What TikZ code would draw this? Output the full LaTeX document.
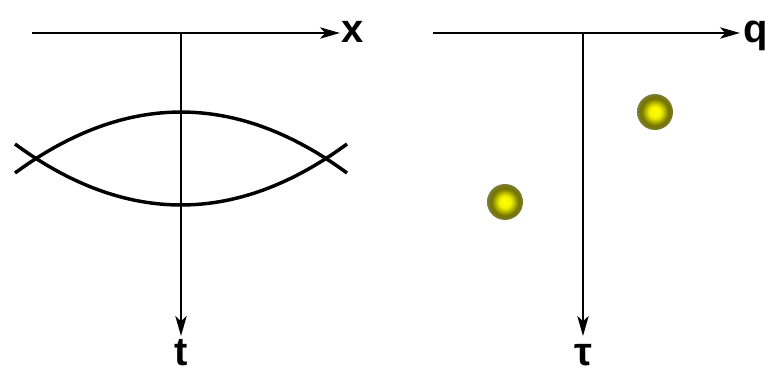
\documentclass[tikz,border=0pt]{standalone}
\usepackage{fontspec}
\setmainfont{Liberation Sans}
\usetikzlibrary{arrows.meta}

\pgfdeclareradialshading{glowdot}{\pgfpoint{0bp}{0bp}}{%
  color(0bp)=(yellow); color(8bp)=(yellow!95!black); color(19bp)=(yellow!45!black);
  color(28bp)=(yellow!30!black!70!white); color(38bp)=(black!15); color(46bp)=(white); color(50bp)=(white)}

\begin{document}
\begin{tikzpicture}[
    x=0.75pt, y=-0.75pt,
    axis/.style = {draw=black, line width=1.8pt, -{Stealth[length=15pt, width=8.5pt, inset=4pt]}},
    worldline/.style = {draw=black, line width=2.6pt},
    axlabel/.style = {anchor=base, inner sep=0pt, font=\fontsize{30}{33}\selectfont\bfseries},
    particle/.style = {circle, minimum size=27pt, inner sep=0pt, shading=glowdot}
]
\useasboundingbox (0,0) rectangle (771,372);

% Left frame
\coordinate (xstart) at (32,33);
\coordinate (xend) at (340,33);
\coordinate (torigin) at (181,33);
\coordinate (tend) at (181,336);
\node (xlab) [axlabel] at (353,42) {x};
\node (tlab) [axlabel] at (181,365) {t};
\draw [axis] (xstart) -- (xend);
\draw [axis] (torigin) -- (tend);

% Lens
\draw [worldline] (15,173) .. controls (125.7,91.7) and (236.3,91.7) .. (347,173);
\draw [worldline] (15,144) .. controls (125.7,225.3) and (236.3,225.3) .. (347,144);

% Right frame
\coordinate (qstart) at (433,33);
\coordinate (qend) at (740,33);
\coordinate (tauorigin) at (583,33);
\coordinate (tauend) at (583,336);
\node (qlab) [axlabel] at (756,42) {q};
\node (taulab) [axlabel] at (583,365) {τ};
\draw [axis] (qstart) -- (qend);
\draw [axis] (tauorigin) -- (tauend);

% Instantons
\node (dotA) [particle] at (505,202) {};
\node (dotB) [particle] at (655,112) {};

\end{tikzpicture}
\end{document}
